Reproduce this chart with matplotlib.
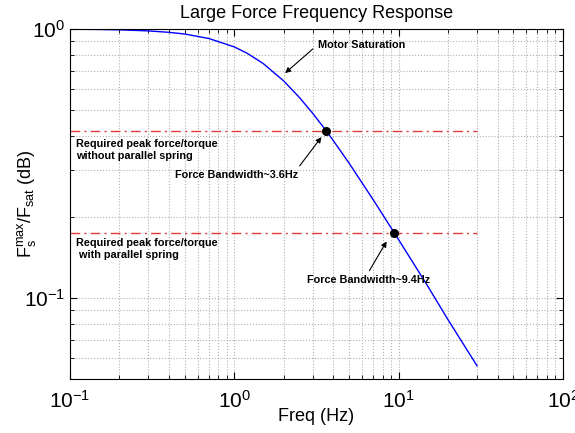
import numpy as np
import matplotlib
matplotlib.use('Agg')
import matplotlib.pyplot as plt
from matplotlib import font_manager
from matplotlib.ticker import LogLocator, NullFormatter

plt.rcParams['font.family'] = ['Liberation Sans', 'DejaVu Sans']
plt.rcParams['mathtext.fontset'] = 'custom'
plt.rcParams['mathtext.rm'] = 'Liberation Sans'
plt.rcParams['mathtext.it'] = 'Liberation Sans:italic'
plt.rcParams['mathtext.bf'] = 'Liberation Sans:bold'

# Values
freq = [0.1, 0.15, 0.2, 0.3, 0.4, 0.5, 0.7, 1.0, 1.2, 1.5, 2.0, 2.5, 3.0, 3.6,
        4.0, 5.0, 7.0, 9.4, 12.0, 15.0, 20.0, 30.0]
force_ratio = [0.998, 0.996, 0.993, 0.984, 0.972, 0.958, 0.922, 0.858, 0.812,
               0.744, 0.641, 0.555, 0.486, 0.421, 0.385, 0.317, 0.232, 0.175,
               0.138, 0.111, 0.083, 0.056]
required_levels = [0.418, 0.1745]
bandwidth_freq = [3.6, 9.4]
bandwidth_labels = ['Force Bandwidth~3.6Hz', 'Force Bandwidth~9.4Hz']
level_labels = ['Required peak force/torque\nwithout parallel spring',
                'Required peak force/torque\n with parallel spring']

# pick the regular-width bold face (not the Narrow one)
bold_file = None
for f in font_manager.fontManager.ttflist:
    if f.name == 'Liberation Sans' and f.weight in (700, 'bold') and f.style == 'normal':
        bold_file = f.fname
        break
if bold_file:
    bold = font_manager.FontProperties(fname=bold_file, size=7.8)
else:
    bold = font_manager.FontProperties(family='Liberation Sans', weight='bold', size=7.8)

fig = plt.figure(figsize=(5.75, 4.33), dpi=100)
ax = fig.add_axes([0.1217, 0.1247, 0.8573, 0.8083])

ax.plot(freq, force_ratio, color='#0000ff', lw=1.0)
for lev in required_levels:
    ax.plot([0.1, 30], [lev, lev], color='#e03c3c', lw=1.0, ls='-.', dashes=(7, 3, 1.5, 3))
ax.plot(bandwidth_freq, required_levels, 'o', color='black', ms=5.5)

ax.set_xscale('log')
ax.set_yscale('log')
ax.set_xlim(0.1, 100)
ax.set_ylim(0.05, 1)
ax.yaxis.set_major_locator(LogLocator(base=10, numticks=5))
ax.yaxis.set_minor_locator(LogLocator(base=10, subs=np.arange(2, 10), numticks=20))
ax.yaxis.set_minor_formatter(NullFormatter())
ax.xaxis.set_minor_formatter(NullFormatter())
ax.grid(True, which='both', ls=':', color='#b0b0b0', lw=0.8)
ax.tick_params(which='both', direction='in', top=True, right=True, labelsize=15)
ax.tick_params(which='major', length=5)
ax.tick_params(which='minor', length=3)
ax.tick_params(axis='x', pad=8)

ax.set_title('Large Force Frequency Response', fontsize=13, pad=8)
ax.set_xlabel('Freq (Hz)', fontsize=13, labelpad=-3)
ax.set_ylabel(r'$\mathregular{F_s^{max}/F_{sat}}$ (dB)', fontsize=13)
ax.yaxis.set_label_coords(-0.064, 0.5)

arrow = dict(arrowstyle='-|>', color='black', lw=0.8, mutation_scale=8)
ax.annotate('', xy=(1.98, 0.675), xytext=(3.10, 0.857), arrowprops=arrow)
ax.text(3.23, 0.872, 'Motor Saturation', fontproperties=bold, ha='left', va='center')

ax.annotate('', xy=(3.47, 0.404), xytext=(2.44, 0.304), arrowprops=arrow)
ax.text(2.44, 0.2866, bandwidth_labels[0], fontproperties=bold, ha='right', va='center')

ax.annotate('', xy=(8.62, 0.1657), xytext=(6.51, 0.1238), arrowprops=arrow)
ax.text(6.54, 0.1166, bandwidth_labels[1], fontproperties=bold, ha='center', va='center')

ax.text(0.1088, 0.356, level_labels[0], fontproperties=bold, ha='left', va='center', linespacing=1.25)
ax.text(0.1088, 0.152, level_labels[1], fontproperties=bold, ha='left', va='center', linespacing=1.25)

fig.savefig('out.png', dpi=100)
